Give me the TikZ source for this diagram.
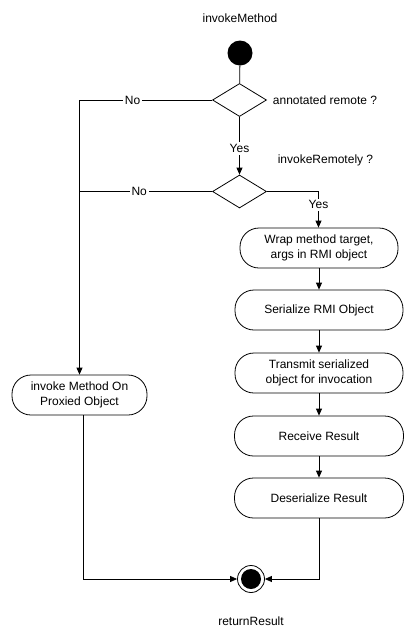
\documentclass[tikz,border=0pt]{standalone}
\usepackage{fontspec}
\setmainfont{Liberation Sans}
\usetikzlibrary{arrows.meta,shapes.geometric}
\begin{document}
\begin{tikzpicture}[x=1pt,y=-1pt,
  every node/.style={font=\fontsize{12}{14.5}\selectfont},
  line/.style={line width=0.8pt},
  arr/.style={line width=0.8pt,-{Triangle[length=7pt,width=6pt]}},
  act/.style={draw,line width=0.8pt,rounded corners=19pt,minimum height=40pt,align=center,inner sep=2pt},
  dec/.style={draw,line width=0.8pt,diamond,minimum width=54pt,minimum height=33pt,aspect=1.6,inner sep=0pt},
  lbl/.style={fill=white,inner sep=2pt}]
\useasboundingbox (0,0) rectangle (414,638);
\node (title) at (240,18) {invokeMethod};
\node[circle,fill=black,minimum size=25pt,inner sep=0pt] (start) at (240,53) {};
\node[dec] (d1) at (239.5,100) {};
\node (q1) at (325,100) {annotated remote ?};
\node (q2) at (325.5,160) {invokeRemotely ?};
\node[dec] (d2) at (239.5,191.5) {};
\node[act,minimum width=158pt] (wrap) at (319,248) {Wrap method target,\\args in RMI object};
\node[act,minimum width=168pt] (ser) at (319,310) {Serialize RMI Object};
\node[act,minimum width=168pt] (tr) at (319,373) {Transmit serialized\\object for invocation};
\node[act,minimum width=169pt] (rec) at (319,436) {Receive Result};
\node[act,minimum width=169pt] (des) at (319,498) {Deserialize Result};
\node[act,minimum width=135pt] (inv) at (79.5,395) {invoke Method On\\Proxied Object};
\node[circle,draw,line width=0.8pt,minimum size=27pt,inner sep=0pt] (end) at (251,579) {};
\node[circle,fill=black,minimum size=20pt,inner sep=0pt] at (end) {};
\node (ret) at (251,621) {returnResult};
\coordinate (c1) at (79.5,100);
\coordinate (c2) at (79.5,191.5);
\coordinate (c3) at (318.5,191.5);
\coordinate (c4) at (83,579);
\coordinate (c5) at (319,579);
\draw[line] (start) -- (d1);
\draw[arr] (d1.west) -- node[lbl,pos=0.6] {No} (c1) -- (inv.north -| c1);
\draw[arr] (d1.south) -- node[lbl,pos=0.55] {Yes} (d2.north);
\draw[line] (d2.west) -- node[lbl,pos=0.55] {No} (c2);
\draw[arr] (d2.east) -- (c3) -- node[lbl,pos=0.37] {Yes} (wrap.north -| c3);
\draw[arr] (wrap) -- (ser);
\draw[arr] (ser) -- (tr);
\draw[arr] (tr) -- (rec);
\draw[arr] (rec) -- (des);
\draw[arr] (inv.south -| c4) -- (c4) -- (end.west);
\draw[arr] (des.south) -- (c5) -- (end.east);
\end{tikzpicture}
\end{document}
